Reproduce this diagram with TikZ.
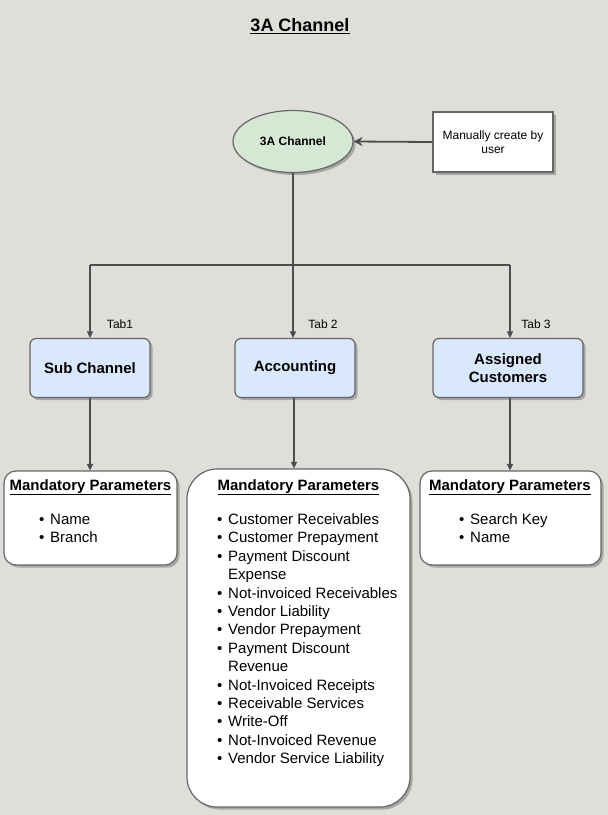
\documentclass[tikz,border=0pt]{standalone}
\usepackage{fontspec}
\setmainfont{Liberation Sans}
\usetikzlibrary{shapes.geometric,arrows.meta,shadows}
\definecolor{bg}{HTML}{DFDEDA}
\definecolor{greenfill}{HTML}{D5E8D4}
\definecolor{bluefill}{HTML}{DAE8FC}
\definecolor{strk}{HTML}{666666}
\definecolor{conn}{HTML}{4D4D4D}
\newcommand{\itm}[1]{\makebox[11pt][l]{\textbullet}#1}
\newcommand{\cnt}[1]{\makebox[11pt][l]{}#1}
\tikzset{
  shad/.style={drop shadow={shadow xshift=2.5pt,shadow yshift=-2.5pt,opacity=0.25,fill=black}},
  ell/.style={ellipse,draw=strk,fill=greenfill,line width=1.2pt,minimum width=120pt,minimum height=62pt,inner sep=0pt,font=\fontsize{12}{14}\selectfont\bfseries,shad},
  plainbox/.style={rectangle,draw=strk,fill=white,line width=1.2pt,inner sep=0pt,align=center,font=\fontsize{12}{14}\selectfont,shad},
  tabbox/.style={rectangle,rounded corners=6pt,draw=strk,fill=bluefill,line width=1.2pt,minimum height=59pt,inner sep=0pt,align=center,font=\fontsize{15}{18}\selectfont\bfseries,shad},
  parbox/.style={rectangle,draw=strk,fill=white,line width=1.2pt,inner sep=0pt,shad},
  heading/.style={inner sep=0pt,anchor=base,font=\fontsize{15}{18}\selectfont\bfseries},
  listtxt/.style={inner sep=0pt,anchor=north west,align=left,font=\fontsize{15}{18.4}\selectfont},
  tablbl/.style={inner sep=0pt,font=\fontsize{12}{14}\selectfont},
  line/.style={draw=conn,line width=1.2pt},
  arr/.style={line,-{Triangle[width=6pt,length=6.5pt]}},
  arrl/.style={draw=conn,line width=1.8pt,-{Stealth[width=9pt,length=9pt,inset=3pt]}},
}
\begin{document}
\begin{tikzpicture}[x=1pt,y=-1pt]
\fill[bg] (0,0) rectangle (608,815);
\useasboundingbox (0,0) rectangle (608,815);

\node[inner sep=0pt,font=\fontsize{18}{20}\selectfont\bfseries] (title) at (300,26) {\underline{3A Channel}};

\node[ell] (ch) at (293,141.5) {3A Channel};
\node[plainbox,minimum width=120pt,minimum height=60pt] (man) at (493,142) {Manually create by\\user};

\node[tabbox,minimum width=120pt] (sub) at (90,368) {Sub Channel};
\node[tabbox,minimum width=120pt] (acc) at (295,368) {Accounting};
\node[tabbox,minimum width=150pt] (ass) at (508,368) {Assigned\\Customers};

\node[tablbl] (t1) at (120,324) {Tab1};
\node[tablbl] (t2) at (323,324) {Tab 2};
\node[tablbl] (t3) at (536,324) {Tab 3};

\node[parbox,rounded corners=12pt,minimum width=173pt,minimum height=94pt] (p1) at (90.5,518) {};
\node[parbox,rounded corners=30pt,minimum width=223pt,minimum height=338pt] (p2) at (298.5,638) {};
\node[parbox,rounded corners=12pt,minimum width=181pt,minimum height=94pt] (p3) at (510.5,518) {};

\node[heading] (h1) at (90.5,490) {\underline{Mandatory Parameters}};
\node[heading] (h2) at (298.5,490) {\underline{Mandatory Parameters}};
\node[heading] (h3) at (510,490) {\underline{Mandatory Parameters}};

\node[listtxt] (l1) at (39,513.5) {\itm{Name}\\\itm{Branch}};
\node[listtxt] (l3) at (459,513.5) {\itm{Search Key}\\\itm{Name}};
\node[listtxt] (l2) at (217,513.5) {\itm{Customer Receivables}\\
\itm{Customer Prepayment}\\
\itm{Payment Discount}\\
\cnt{Expense}\\
\itm{Not-invoiced Receivables}\\
\itm{Vendor Liability}\\
\itm{Vendor Prepayment}\\
\itm{Payment Discount}\\
\cnt{Revenue}\\
\itm{Not-Invoiced Receipts}\\
\itm{Receivable Services}\\
\itm{Write-Off}\\
\itm{Not-Invoiced Revenue}\\
\itm{Vendor Service Liability}};

\coordinate (j) at (293,265);
\coordinate (jl) at (90,265);
\coordinate (jr) at (510,265);

\draw[arrl] (man.west) -- (ch.east);
\draw[arr] (ch.south) -- (ch.south |- acc.north);
\draw[line] (jl) -- (jr);
\draw[arr] (jl) -- (sub.north);
\draw[arr] (jr) -- (jr |- ass.north);

\draw[arr] (sub.south) -- (sub.south |- p1.north);
\draw[arr] (acc.south -| j) ++(1,0) coordinate (as) (as) -- (as |- p2.north);
\draw[arr] (jr |- ass.south) -- (jr |- p3.north);
\end{tikzpicture}
\end{document}
